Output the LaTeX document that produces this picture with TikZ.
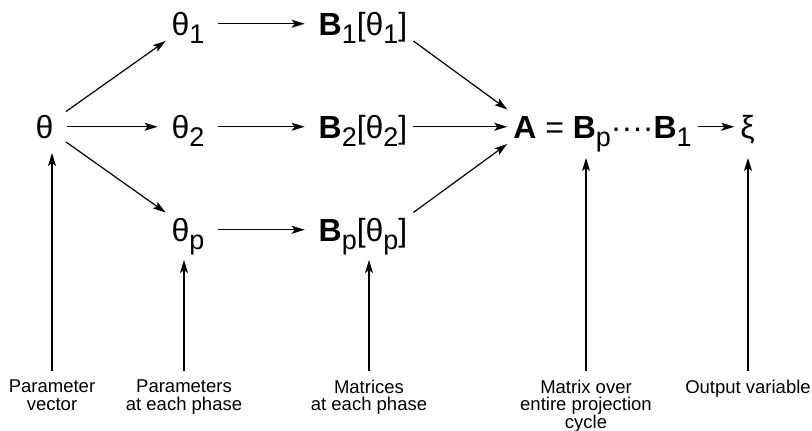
\documentclass[tikz,border=0pt]{standalone}
\usepackage{fontspec}
\setmainfont{Liberation Sans}
\usetikzlibrary{arrows.meta}

\newcommand{\idx}[1]{\raisebox{-8pt}{\fontsize{27}{27}\selectfont #1}}

\begin{document}
\begin{tikzpicture}[x=1pt, y=-1pt,
  sym/.style={font=\fontsize{32}{32}\selectfont, inner sep=0pt, outer sep=6pt,
    text height=22.5pt, text depth=0pt, anchor=base},
  note/.style={font=\fontsize{18.5}{17.5}\selectfont, align=center,
    inner sep=0pt, outer sep=9pt, anchor=north},
  flow/.style={-{Stealth[length=13pt, width=8pt, inset=3pt]}, line width=1.2pt},
  gap/.style={shorten <=8pt, shorten >=8pt}]
  \useasboundingbox (0,0) rectangle (812,431);

  \node[sym] (theta) at (44.5,138) {θ};

  \node[sym] (t1) at (188,35)  {θ\idx{1}};
  \node[sym] (t2) at (188,138) {θ\idx{2}};
  \node[sym] (tp) at (188,241) {θ\idx{p}};

  \node[sym] (b1) at (363,35)  {\textbf{B}\idx{1}[θ\idx{1}]};
  \node[sym] (b2) at (363,138) {\textbf{B}\idx{2}[θ\idx{2}]};
  \node[sym] (bp) at (363,241) {\textbf{B}\idx{p}[θ\idx{p}]};

  \node[sym] (a) at (602.5,138) {\textbf{A} = \textbf{B}\idx{p}····\textbf{B}\idx{1}};
  \node[sym] (xi) at (747.5,138) {ξ};

  \draw[flow, shorten <=8pt] (theta) -- (t1.south west);
  \draw[flow, gap] (theta) -- (t2);
  \draw[flow, shorten <=8pt] (theta) -- (tp.north west);

  \draw[flow, gap] (t1) -- (b1);
  \draw[flow, gap] (t2) -- (b2);
  \draw[flow, gap] (tp) -- (bp);

  \draw[flow] (b1.south east) -- (a.north west);
  \draw[flow] (b2) -- (a);
  \draw[flow] (bp.north east) -- (a.south west);
  \draw[flow] (a) -- (xi);

  % labels underneath
  \node[note] (lvec) at (52,371) {Parameter\\vector};
  \node[note] (lpar) at (184,371) {Parameters\\at each phase};
  \node[note] (lmat) at (369,371) {Matrices\\at each phase};
  \node[note] (lcyc) at (586,371) {Matrix over\\entire projection\\cycle};
  \node[note] (lout) at (748,371) {Output variable};

  \draw[flow, shorten >=9pt] (lvec.north) -- (lvec.north |- theta.south);
  \draw[flow, shorten >=13pt] (lpar.north) -- (lpar.north |- tp.south);
  \draw[flow, shorten >=13pt] (lmat.north) -- (lmat.north |- bp.south);
  \draw[flow, shorten >=14pt] (lcyc.north) -- (lcyc.north |- a.south);
  \draw[flow, shorten >=14pt] (lout.north) -- (lout.north |- xi.south);
\end{tikzpicture}
\end{document}
